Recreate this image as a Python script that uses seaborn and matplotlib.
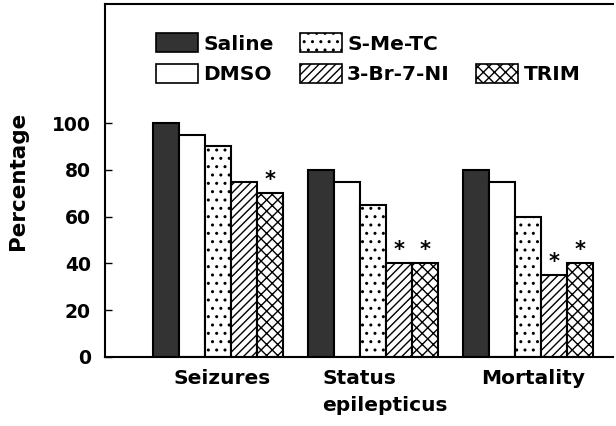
import matplotlib
matplotlib.use("Agg")
import matplotlib.pyplot as plt
import matplotlib.transforms as mtransforms
from matplotlib.patches import Patch
import seaborn as sns
import pandas as pd

categories = ["Seizures", "Status\nepilepticus", "Mortality"]
series = ["Saline", "DMSO", "S-Me-TC", "3-Br-7-NI", "TRIM"]
saline = [100, 80, 80]
dmso = [95, 75, 75]
smetc = [90, 65, 60]
br7ni = [75, 40, 35]
trim = [70, 40, 40]
significant = {"TRIM": [True, True, True], "3-Br-7-NI": [False, True, True]}
y_ticks = [0, 20, 40, 60, 80, 100]

values = {"Saline": saline, "DMSO": dmso, "S-Me-TC": smetc, "3-Br-7-NI": br7ni, "TRIM": trim}
rows = []
for s in series:
    for c, v in zip(categories, values[s]):
        rows.append({"cat": c, "series": s, "val": v})
df = pd.DataFrame(rows)

sns.set_style("white")
plt.rcParams["font.family"] = ["DejaVu Sans"]
plt.rcParams["font.weight"] = "bold"
plt.rcParams["hatch.linewidth"] = 1.0
for k in ["text.color", "axes.labelcolor", "xtick.color", "ytick.color", "axes.edgecolor"]:
    plt.rcParams[k] = "black"

fig = plt.figure(figsize=(6.16, 4.26), dpi=100)
ax = fig.add_axes([0.170, 0.162, 0.825, 0.829])

faces = ["#333333", "white", "white", "white", "white"]
hatches = [None, None, "..", "////", "xxx"]
pal = dict(zip(series, faces))
sns.barplot(data=df, x="cat", y="val", hue="series", hue_order=series,
            order=categories, palette=pal, width=0.84, ax=ax,
            edgecolor="black", linewidth=1.5, legend=False, errorbar=None,
            saturation=1)

for cont, h in zip(ax.containers, hatches):
    for bar in cont:
        if h:
            bar.set_hatch(h)

# significance stars
for cont, s in zip(ax.containers, series):
    if s in significant:
        for bar, flag in zip(cont, significant[s]):
            if flag:
                ax.text(bar.get_x() + bar.get_width() / 2, bar.get_height() + 1.5, "*",
                        ha="center", va="bottom", fontsize=15, fontweight="bold",
                        color="black")

ax.set_ylim(0, 151)
ax.set_xlim(-0.73, 2.55)
ax.set_yticks(y_ticks)
ax.set_yticklabels([str(t) for t in y_ticks], fontsize=13.5, fontweight="bold")
ax.tick_params(axis="y", direction="in", length=5, width=1, pad=10, left=True)
ax.tick_params(axis="x", length=0, pad=9)
x_offsets_px = [4, 12, 5]
for lbl, dx in zip(ax.get_xticklabels(), x_offsets_px):
    lbl.set_fontsize(14.5)
    lbl.set_fontweight("bold")
    lbl.set_multialignment("left")
    lbl.set_linespacing(1.5)
    lbl.set_transform(lbl.get_transform() +
                      mtransforms.ScaledTranslation(dx / 100, 0, fig.dpi_scale_trans))
ax.set_xlabel("")
ax.set_ylabel("Percentage", fontsize=15.5, fontweight="bold", labelpad=17)

for sp in ["left", "bottom", "top"]:
    ax.spines[sp].set_visible(True)
    ax.spines[sp].set_color("black")
    ax.spines[sp].set_linewidth(1.5)
ax.spines["right"].set_visible(False)

handles = []
for f, h, s in zip(faces, hatches, series):
    handles.append(Patch(facecolor=f, edgecolor="black", hatch=h, linewidth=1.2, label=s))
blank = Patch(facecolor="none", edgecolor="none", label="")
order = [handles[0], handles[1], handles[2], handles[3], blank, handles[4]]
labels = ["Saline", "DMSO", "S-Me-TC", "3-Br-7-NI", "", "TRIM"]
leg = ax.legend(order, labels, ncol=3, loc="upper left", bbox_to_anchor=(0.085, 0.94),
                frameon=False, prop={"size": 14.5, "weight": "bold"},
                handlelength=2.1, handleheight=1.1, handletextpad=0.25,
                columnspacing=1.3, labelspacing=0.5, borderaxespad=0)
for t in leg.get_texts():
    t.set_color("black")

fig.savefig("out.png", dpi=100)
